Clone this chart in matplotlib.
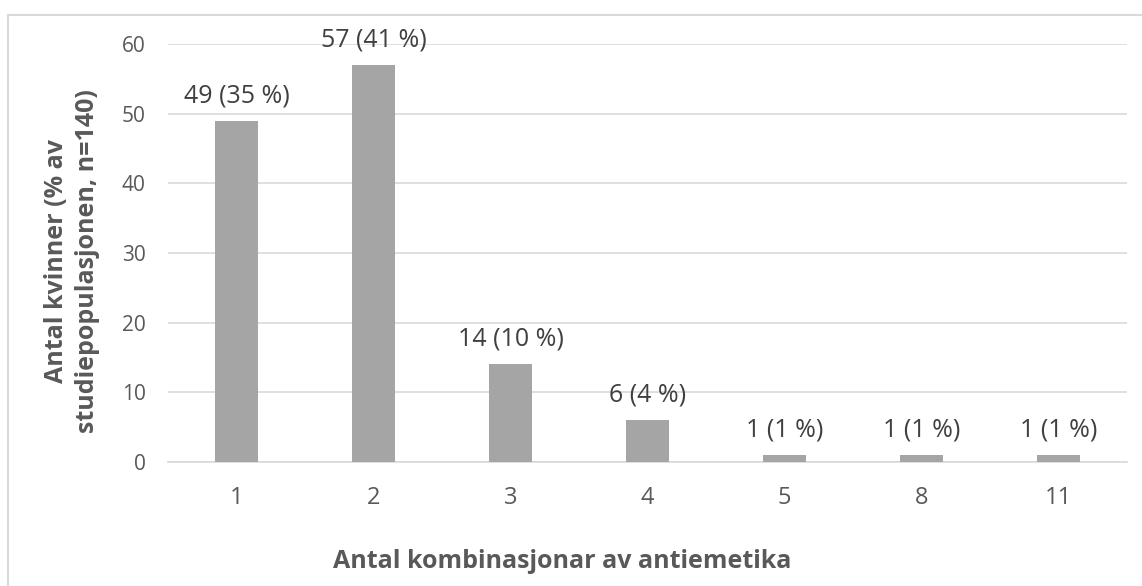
import matplotlib.pyplot as plt
from matplotlib.lines import Line2D

categories = ["1", "2", "3", "4", "5", "8", "11"]
counts = [49, 57, 14, 6, 1, 1, 1]
labels = ["49 (35 %)", "57 (41 %)", "14 (10 %)", "6 (4 %)", "1 (1 %)", "1 (1 %)", "1 (1 %)"]
y_ticks = [0, 10, 20, 30, 40, 50, 60]

plt.rcParams['font.family'] = ['Open Sans', 'DejaVu Sans']

W, H = 1142, 586
fig = plt.figure(figsize=(W / 100, H / 100), dpi=100)
ax = fig.add_axes([168 / W, 1 - 462 / H, (1127 - 168) / W, (462 - 44) / H])

x = range(len(categories))
ax.bar(x, counts, width=0.31, color="#A5A5A5", zorder=3)
for xi, c, lab in zip(x, counts, labels):
    ax.annotate(lab, (xi, c), xytext=(0, 9), textcoords="offset points",
                ha="center", va="bottom", fontsize=18, color="#404040")

ax.set_xlim(-0.5, len(categories) - 0.5)
ax.set_ylim(0, 60)
ax.set_yticks(y_ticks)
ax.set_xticks(list(x))
ax.set_xticklabels(categories)
ax.tick_params(axis="y", length=0, labelsize=15, labelcolor="#595959", pad=16)
ax.tick_params(axis="x", length=0, labelsize=17, labelcolor="#595959", pad=17)
ax.grid(axis="y", color="#D9D9D9", linewidth=1.2, zorder=0)
for s in ["top", "right", "left"]:
    ax.spines[s].set_visible(False)
ax.spines["bottom"].set_color("#D9D9D9")
ax.spines["bottom"].set_linewidth(1.2)

fig.text(562 / W, 1 - 561 / H, "Antal kombinasjonar av antiemetika",
         ha="center", va="center", fontsize=18, fontweight="bold", color="#595959")
fig.text(72 / W, 1 - 261 / H, "Antal kvinner (% av\nstudiepopulasjonen, n=140)",
         ha="center", va="center", rotation=90, fontsize=18, fontweight="bold",
         color="#595959", linespacing=1.35)

# chart area frame (only top and left edges are visible in the crop)
fig.add_artist(Line2D([8 / W, 1], [1 - 15 / H, 1 - 15 / H], transform=fig.transFigure,
                      color="#D9D9D9", linewidth=1.5))
fig.add_artist(Line2D([8 / W, 8 / W], [1 - 15 / H, 0], transform=fig.transFigure,
                      color="#D9D9D9", linewidth=1.5))

fig.savefig("out.png", dpi=100)
